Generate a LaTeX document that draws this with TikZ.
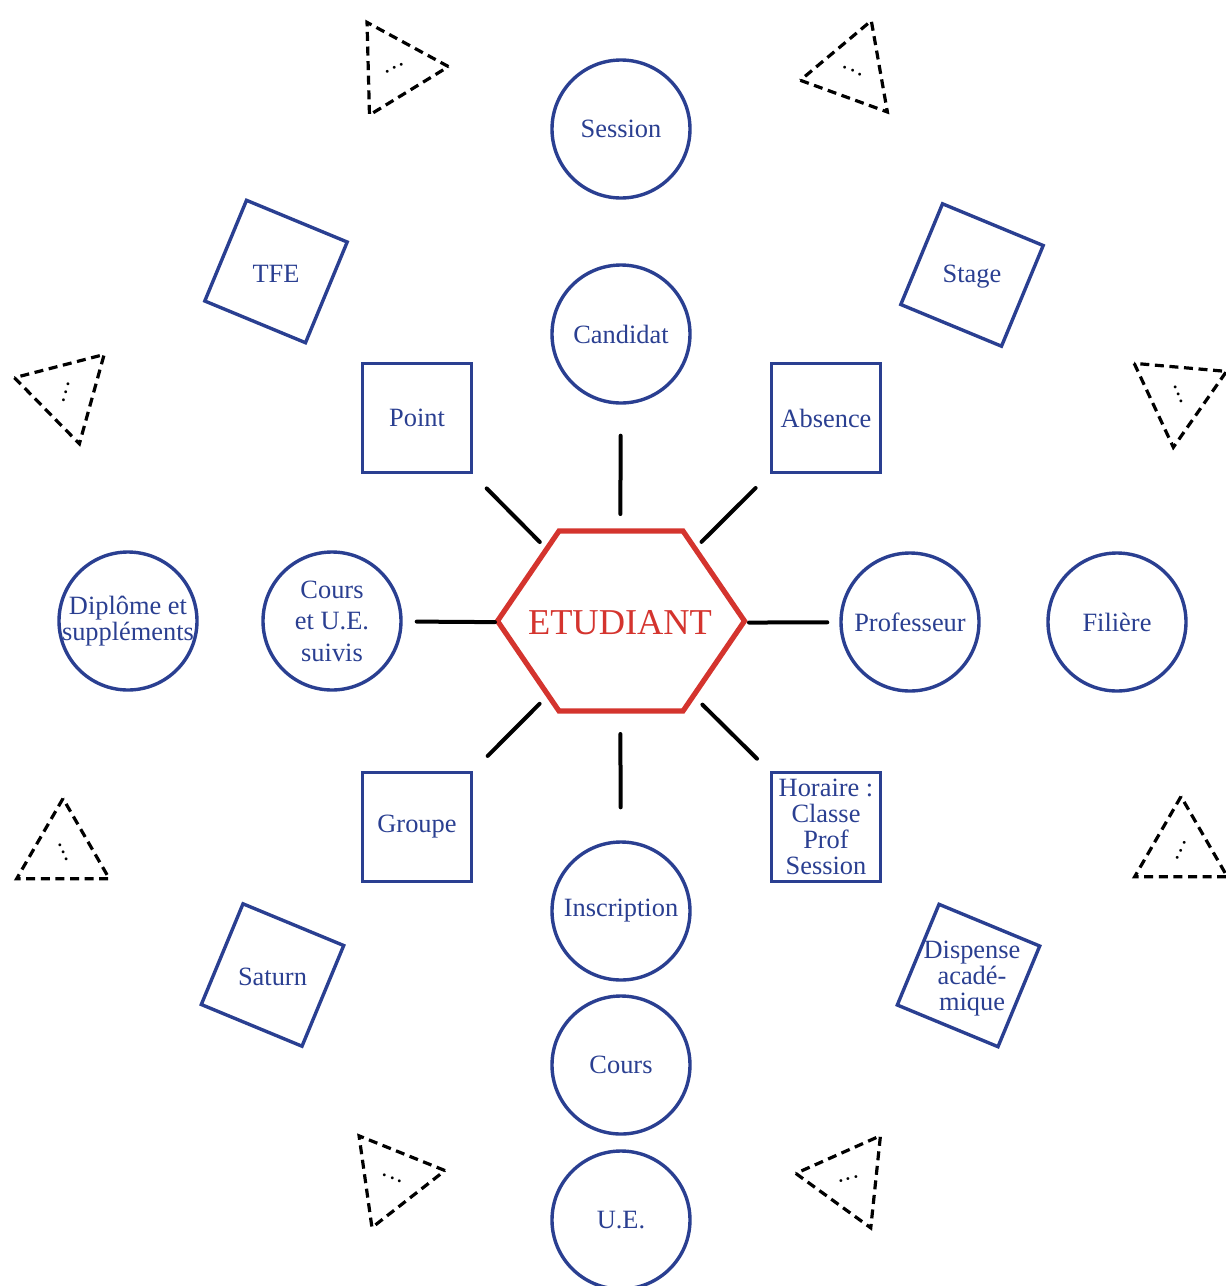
\documentclass[tikz,border=0pt]{standalone}
\usepackage{fontspec}
\setmainfont{Liberation Serif}
\usetikzlibrary{shapes.geometric}

\definecolor{entblue}{RGB}{42,63,145}
\definecolor{etured}{RGB}{212,52,46}

\tikzset{
  entity/.style={draw=entblue, text=entblue, line width=1.7pt, inner sep=0pt,
                 font=\fontsize{13.2}{13}\selectfont, align=center},
  ecircle/.style={entity, circle, minimum size=69pt},
  esquare/.style={entity, rectangle, minimum size=54.5pt},
  etilted/.style={entity, rectangle, minimum size=54.5pt, rotate=-22.5},
  elabel/.style={text=entblue, inner sep=0pt, font=\fontsize{13.2}{13}\selectfont, align=center},
  hexa/.style={draw=etured, line width=2.6pt, line join=miter},
  spoke/.style={line width=2pt, line cap=round},
  dottri/.style={regular polygon, regular polygon sides=3, draw, line width=1.6pt,
                 dash pattern=on 4.5pt off 2.8pt, minimum size=53.5pt, inner sep=0pt,
                 font=\large}
}

\begin{document}
\begin{tikzpicture}[x=0.5pt,y=-0.5pt]
\useasboundingbox (0,0) rectangle (1226,1286);

\node[text=etured, font=\fontsize{18.2}{20}\selectfont, inner sep=0pt] (etu) at (620,623) {ETUDIANT};
\draw[hexa] (621,621) ++(-123.5,0) -- ++(61.5,-90) -- ++(124,0) -- ++(61.5,90)
            -- ++(-61.5,90) -- ++(-124,0) -- cycle;

\node[ecircle] (session) at (621,129) {Session};
\node[ecircle] (candidat) at (621,334) {Candidat};
\node[esquare] (point) at (417,418) {Point};
\node[esquare] (absence) at (826,418) {Absence};
\node[ecircle, inner sep=-1pt] (diplome) at (128,621) {Diplôme et\\suppléments};
\node[ecircle, font=\fontsize{13.2}{15.8}\selectfont] (coursue) at (332,621) {Cours\\et U.E.\\suivis};
\node[ecircle] (professeur) at (910,622) {Professeur};
\node[ecircle] (filiere) at (1117,622) {Filière};
\node[esquare] (groupe) at (417,827) {Groupe};
\node[esquare] (horaire) at (826,827) {Horaire :\\Classe\\Prof\\Session};
\node[ecircle] (inscription) at (621,911) {Inscription};
\node[ecircle] (cours) at (621,1065) {Cours};
\node[ecircle] (ue) at (621,1220) {U.E.};

\node[etilted] (tfe) at (276,271.5) {};
\node[elabel] (tfetext) at (276,274) {TFE};
\node[etilted] (stage) at (972,275) {};
\node[elabel] (stagetext) at (972,277) {Stage};
\node[etilted] (saturn) at (272.5,975) {};
\node[elabel] (saturntext) at (272.5,977) {Saturn};
\node[etilted] (dispense) at (968.5,975.5) {};
\node[elabel] (dispensetext) at (972,979) {Dispense\\acadé-\\mique};

\draw[spoke, shorten <=54.5pt, shorten >=15.5pt] (etu.center) -- (candidat);
\draw[spoke, shorten <=55.5pt, shorten >=16.5pt] (etu.center) -- (inscription);
\draw[spoke, shorten <=62.5pt, shorten >=7pt] (etu.center) -- (coursue);
\draw[spoke, shorten <=64.5pt, shorten >=6pt] (etu.center) -- (professeur);
\draw[spoke, shorten <=57pt, shorten >=10pt] (etu.center) -- (point);
\draw[spoke, shorten <=57.5pt, shorten >=10pt] (etu.center) -- (absence);
\draw[spoke, shorten <=57pt, shorten >=10.5pt] (etu.center) -- (groupe);
\draw[spoke, shorten <=58pt, shorten >=9pt] (etu.center) -- (horaire);

\foreach \x/\y/\r/\s [count=\i] in {395/68/-66/-22.5, 853/71/-116.6/216.6,
    66/392/-16/90.5, 1178/394/21.5/33.5, 63/852/23.2/-23.2,
    1181/850/-26/26, 392/1178/65.3/-147.3, 849/1179/-73.3/157.3}
  \node[dottri, rotate=\r, shape border rotate=\s] (etc\i) at (\x,\y)
    {\raisebox{0pt}[9.5pt][0pt]{$\vdots$}};

\end{tikzpicture}
\end{document}
